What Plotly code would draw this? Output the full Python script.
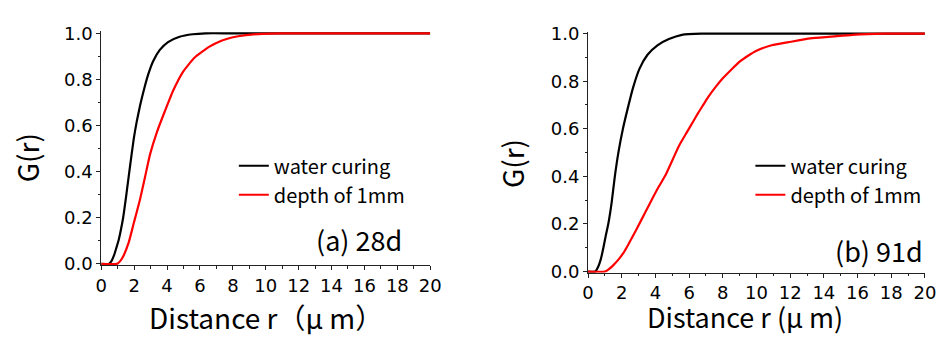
import plotly.graph_objects as go

# ---- data ----
x_water_28 = [0, 0.45, 0.6, 0.78, 0.92, 1.07, 1.2, 1.33, 1.45, 1.57, 1.77, 1.97, 2.15, 2.37, 2.61, 2.87, 3.16, 3.56, 4.06, 4.76, 5.55, 6.35, 8, 20]
y_water_28 = [0, 0, 0.01, 0.038, 0.07, 0.107, 0.15, 0.20, 0.26, 0.325, 0.435, 0.54, 0.615, 0.69, 0.76, 0.825, 0.88, 0.928, 0.962, 0.985, 0.996, 1.0, 1, 1]

x_depth_28 = [0, 0.95, 1.15, 1.37, 1.67, 1.97, 2.37, 2.67, 2.97, 3.4, 3.86, 4.36, 4.96, 5.65, 6.55, 7.34, 7.94, 8.8, 9.8, 11, 20]
y_depth_28 = [0, 0, 0.012, 0.038, 0.093, 0.175, 0.284, 0.38, 0.476, 0.575, 0.661, 0.75, 0.832, 0.893, 0.941, 0.969, 0.982, 0.992, 0.998, 1, 1]

x_water_91 = [0, 0.43, 0.6, 0.75, 0.91, 1.05, 1.2, 1.4, 1.59, 1.8, 2.07, 2.37, 2.66, 3.05, 3.53, 4.12, 4.8, 5.57, 6.74, 8, 20]
y_water_91 = [0, 0, 0.02, 0.05, 0.10, 0.15, 0.20, 0.29, 0.40, 0.50, 0.60, 0.69, 0.77, 0.852, 0.911, 0.951, 0.977, 0.995, 1.0, 1, 1]

x_depth_91 = [0, 1.0, 1.2, 1.49, 1.8, 2.08, 2.4, 2.76, 3.15, 3.63, 4.12, 4.61, 5.0, 5.38, 5.87, 6.26, 6.55, 6.88, 7.13, 7.6, 8.0, 8.5, 9.0, 9.5, 10.0, 10.9, 11.9, 13.2, 14.4, 15.7, 17.6, 20]
y_depth_91 = [0, 0, 0.008, 0.026, 0.05, 0.076, 0.115, 0.162, 0.215, 0.281, 0.347, 0.407, 0.467, 0.526, 0.586, 0.633, 0.668, 0.705, 0.733, 0.778, 0.812, 0.848, 0.882, 0.907, 0.928, 0.951, 0.964, 0.98, 0.987, 0.995, 1.0, 1.0]

series_names = ["water curing", "depth of 1mm"]
panel_labels = ["(a) 28d", "(b) 91d"]
x_titles = ["Distance r（μ m）", "Distance r (μ m)"]
y_title = "G(r)"

FONT = "Noto Sans CJK JP, Liberation Sans, sans-serif"
TICKFONT = "DejaVu Sans, sans-serif"
W, H = 947, 337

fig = go.Figure()

def add(x, y, color, name, xa, ya, legend):
    fig.add_trace(go.Scatter(x=x, y=y, mode="lines", name=name,
                             line=dict(color=color, width=2.2, shape="spline", smoothing=0.5),
                             xaxis=xa, yaxis=ya, legend=legend, showlegend=True))

add(x_water_28, y_water_28, "#000000", series_names[0], "x", "y", "legend")
add(x_depth_28, y_depth_28, "#ff0000", series_names[1], "x", "y", "legend")
add(x_water_91, y_water_91, "#000000", series_names[0], "x2", "y2", "legend2")
add(x_depth_91, y_depth_91, "#ff0000", series_names[1], "x2", "y2", "legend2")

def px_x(p): return p / W
def px_y(p): return 1 - p / H

xcommon = dict(range=[0, 20], dtick=2, tick0=0, ticks="outside", ticklen=4, tickwidth=1,
               tickcolor="#222", showline=True, linecolor="#222", linewidth=1,
               showgrid=False, zeroline=False, tickfont=dict(size=18, color="#000", family=TICKFONT),
               minor=dict(dtick=1, ticks="outside", ticklen=2.5, tickcolor="#222", showgrid=False))
ycommon = dict(range=[-0.005, 1.008], dtick=0.2, tick0=0, tickformat=".1f", ticks="outside", ticklen=4,
               tickwidth=1, tickcolor="#222", showline=True, linecolor="#222", linewidth=1,
               showgrid=False, zeroline=False, tickfont=dict(size=18, color="#000", family=TICKFONT),
               minor=dict(dtick=0.1, ticks="outside", ticklen=2.5, tickcolor="#222", showgrid=False))

fig.update_layout(
    width=W, height=H, margin=dict(l=0, r=0, t=0, b=0),
    paper_bgcolor="white", plot_bgcolor="white",
    font=dict(family=FONT, color="#000"),
    xaxis=dict(domain=[px_x(97), px_x(432)], anchor="y", **xcommon),
    yaxis=dict(domain=[px_y(270.5), px_y(23.75)], anchor="x", **ycommon),
    xaxis2=dict(domain=[px_x(592.7), px_x(935.7)], anchor="y2", **xcommon),
    yaxis2=dict(domain=[px_y(278.6), px_y(24.0)], anchor="x2", **ycommon),
    legend=dict(x=px_x(232), y=px_y(145), xanchor="left", yanchor="top",
                bgcolor="rgba(0,0,0,0)", font=dict(size=20, family=FONT), tracegroupgap=0),
    legend2=dict(x=px_x(758), y=px_y(145), xanchor="left", yanchor="top",
                 bgcolor="rgba(0,0,0,0)", font=dict(size=20, family=FONT), tracegroupgap=0),
    showlegend=True,
)

annots = [
    dict(text=panel_labels[0], x=px_x(405), y=px_y(243), xanchor="right", yanchor="middle", font=dict(size=27)),
    dict(text=panel_labels[1], x=px_x(936), y=px_y(255), xanchor="right", yanchor="middle", font=dict(size=27)),
    dict(text=x_titles[0], x=px_x(265), y=px_y(325), xanchor="center", yanchor="middle", font=dict(size=28)),
    dict(text=x_titles[1], x=px_x(753), y=px_y(325), xanchor="center", yanchor="middle", font=dict(size=27)),
    dict(text=y_title, x=px_x(21), y=px_y(157), xanchor="center", yanchor="middle", textangle=-90, font=dict(size=28)),
    dict(text=y_title, x=px_x(516), y=px_y(163), xanchor="center", yanchor="middle", textangle=-90, font=dict(size=28)),
]
for a in annots:
    a.update(xref="paper", yref="paper", showarrow=False)
    a["font"].update(family=FONT, color="#000")
fig.update_layout(annotations=annots)

fig.write_html("out.html")
